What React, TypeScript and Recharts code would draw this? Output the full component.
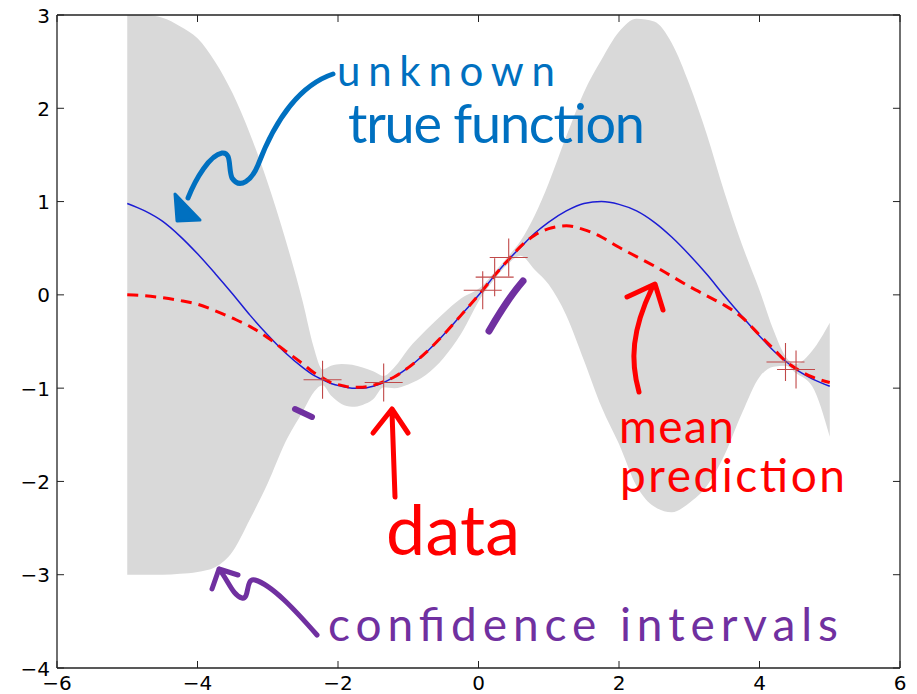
import React from 'react';
import { ComposedChart, Area, Line, Scatter, XAxis, YAxis, ReferenceLine } from 'recharts';

// sample positions along x
const xs = [
  -5, -4.75, -4.5, -4.25, -4, -3.75, -3.5, -3.25, -3, -2.75, -2.5, -2.35, -2.22, -2.1, -1.95, -1.8,
  -1.65, -1.5, -1.35, -1.2, -1.0, -0.75, -0.5, -0.25, 0.06, 0.21, 0.43, 0.6, 0.8, 1.0, 1.25, 1.5,
  1.75, 2.0, 2.25, 2.5, 2.75, 3.0, 3.25, 3.5, 3.75, 4.0, 4.2, 4.37, 4.52, 4.75, 5.0,
];

// unknown true function (blue)
const trueFn = [
  0.98, 0.9, 0.79, 0.63, 0.44, 0.23, 0.01, -0.22, -0.43, -0.62, -0.78, -0.86, -0.91, -0.95, -0.98, -1.0,
  -1.0, -0.98, -0.94, -0.88, -0.78, -0.62, -0.43, -0.22, 0.05, 0.19, 0.38, 0.51, 0.66, 0.78, 0.9, 0.98,
  1.0, 0.97, 0.9, 0.78, 0.62, 0.43, 0.22, -0.01, -0.23, -0.44, -0.6, -0.71, -0.8, -0.9, -0.98,
];

// mean prediction (red dashed)
const meanPred = [
  0.0, -0.01, -0.03, -0.06, -0.1, -0.17, -0.25, -0.34, -0.46, -0.6, -0.74, -0.83, -0.89, -0.94, -0.97, -0.99,
  -0.99, -0.97, -0.93, -0.88, -0.78, -0.62, -0.43, -0.22, 0.05, 0.19, 0.38, 0.52, 0.64, 0.71, 0.74, 0.7,
  0.62, 0.51, 0.41, 0.31, 0.2, 0.09, -0.01, -0.11, -0.24, -0.43, -0.58, -0.71, -0.79, -0.88, -0.94,
];

// confidence interval edges (gray band)
const bandHigh = [
  3.0, 3.0, 2.97, 2.88, 2.75, 2.5, 2.16, 1.72, 1.2, 0.6, -0.08, -0.55, -0.8, -0.76, -0.74, -0.75,
  -0.78, -0.82, -0.87, -0.78, -0.58, -0.38, -0.2, -0.04, 0.1, 0.23, 0.42, 0.58, 0.85, 1.2, 1.7, 2.17,
  2.52, 2.82, 2.96, 2.93, 2.7, 2.26, 1.72, 1.1, 0.54, 0.05, -0.38, -0.66, -0.74, -0.6, -0.3,
];
const bandLow = [
  -3.0, -3.0, -3.0, -2.99, -2.97, -2.92, -2.75, -2.4, -2.02, -1.58, -1.25, -1.05, -0.97, -1.08, -1.17, -1.2,
  -1.18, -1.12, -0.99, -1.0, -0.96, -0.86, -0.68, -0.42, 0.0, 0.15, 0.34, 0.42, 0.27, 0.11, -0.22, -0.7,
  -1.2, -1.6, -2.05, -2.27, -2.33, -2.23, -2.05, -1.72, -1.27, -0.88, -0.77, -0.76, -0.84, -0.98, -1.52,
];

// observed data (+ markers)
const obsX = [-2.22, -1.35, 0.06, 0.23, 0.43, 4.37, 4.52];
const obsY = [-0.91, -0.94, 0.05, 0.19, 0.4, -0.72, -0.8];

const xTicks = [-6, -4, -2, 0, 2, 4, 6];
const yTicks = [-4, -3, -2, -1, 0, 1, 2, 3];
const X_MIN = -6, X_MAX = 6, Y_MIN = -4, Y_MAX = 3;
// inward tick length in data units (about 7px)
const TX = 0.1, TY = 0.075;

const rows = xs.map((x, i) => ({ x, f: trueFn[i], mu: meanPred[i], band: [bandLow[i], bandHigh[i]] }));
const obs = obsX.map((x, i) => ({ x, y: obsY[i] }));

const fmt = (v: number) => String(v).replace('-', '\u2212');
const frame = { stroke: '#222', strokeWidth: 1.3 };

const BottomTick = ({ x, y, payload }: any) => (
  <text x={x} y={y + 13} textAnchor="middle" fontSize={20} fontFamily="DejaVu Sans" fill="#000">
    {fmt(payload.value)}
  </text>
);
const LeftTick = ({ x, y, payload }: any) => (
  <text x={x} y={y + 7.5} textAnchor="end" fontSize={20} fontFamily="DejaVu Sans" fill="#000">
    {fmt(payload.value)}
  </text>
);

const Plus = (props: any) => {
  const { cx, cy } = props;
  const r = 19;
  return (
    <g stroke="#c04848" strokeWidth={1.1}>
      <line x1={cx - r} y1={cy} x2={cx + r} y2={cy} />
      <line x1={cx} y1={cy - r} x2={cx} y2={cy + r} />
    </g>
  );
};

// hand-drawn notes laid over the plot
const Notes = () => {
  const font = { fontFamily: 'Lato', fontWeight: 400 };
  const blue = '#0070c0';
  const red = '#ff0000';
  const purple = '#7030a0';
  return (
    <svg width={917} height={694} style={{ position: 'absolute', left: 0, top: 0, pointerEvents: 'none' }}>
      <g strokeLinecap="round" strokeLinejoin="round">
        <text x={337} y={86} fontSize={42} fill={blue} textLength={218} {...font}>unknown</text>
        <text x={348} y={143} fontSize={54} fill={blue} textLength={297} {...font}>true function</text>
        <path d="M 333 74 C 300 85, 275 120, 258 165 C 252 180, 240 190, 232 178 C 228 168, 232 152, 222 153 C 210 155, 196 178, 188 198"
          fill="none" stroke={blue} strokeWidth={5} />
        <path d="M 175 194 L 177 221 L 200 220 Z" fill={blue} stroke={blue} strokeWidth={3} />

        <text x={386} y={555} fontSize={70} fill={red} textLength={134} {...font}>data</text>
        <path d="M 395 497 L 392 412 M 373 433 L 392 409 L 408 433" fill="none" stroke={red} strokeWidth={5} />

        <text x={619} y={443} fontSize={46} fill={red} textLength={115} {...font}>mean</text>
        <text x={620} y={492} fontSize={46} fill={red} textLength={225} {...font}>prediction</text>
        <path d="M 639 392 C 630 360, 632 330, 652 288 M 627 297 L 655 284 L 663 310" fill="none" stroke={red} strokeWidth={5} />

        <text x={328} y={641} fontSize={46} fill={purple} textLength={510} {...font}>confidence intervals</text>
        <path d="M 317 635 C 295 610, 272 585, 255 580 C 245 577, 250 600, 242 598 C 233 596, 228 580, 219 569 M 212 589 L 219 569 L 238 575"
          fill="none" stroke={purple} strokeWidth={5} />
        <path d="M 295 409 L 312 417" stroke={purple} strokeWidth={6} />
        <path d="M 489 331 C 500 312, 510 296, 523 281" fill="none" stroke={purple} strokeWidth={7} />
      </g>
    </svg>
  );
};

export default function App() {
  return (
    <div style={{ position: 'absolute', left: 0, top: 0, width: 917, height: 694, background: '#fff' }}>
      <ComposedChart width={917} height={694} data={rows} margin={{ top: 15, right: 17, bottom: 0, left: 0 }}>
        <XAxis dataKey="x" type="number" domain={[X_MIN, X_MAX]} ticks={xTicks} interval={0} allowDataOverflow
          height={26} tickSize={0} tickMargin={9} tickLine={false} tick={<BottomTick />} axisLine={frame} />
        <YAxis type="number" domain={[Y_MIN, Y_MAX]} ticks={yTicks} interval={0} allowDataOverflow
          width={57} tickSize={0} tickMargin={7} tickLine={false} tick={<LeftTick />} axisLine={frame} />
        <Area dataKey="band" type="monotone" fill="#d9d9d9" fillOpacity={1} stroke="none" isAnimationActive={false} />
        <Line dataKey="f" type="monotone" stroke="#1c1cd4" strokeWidth={1.5} dot={false} activeDot={false} isAnimationActive={false} />
        <Line dataKey="mu" type="monotone" stroke="#ff0000" strokeWidth={3} strokeDasharray="11 7" dot={false} activeDot={false} isAnimationActive={false} />
        <Scatter data={obs} dataKey="y" shape={Plus} isAnimationActive={false} />
        {/* top and right sides of the axes box */}
        <ReferenceLine y={Y_MAX} stroke="#222" strokeWidth={1.3} />
        <ReferenceLine x={X_MAX} stroke="#222" strokeWidth={1.3} />
        {/* inward ticks on all four sides */}
        {xTicks.map((t) => (
          <ReferenceLine key={`b${t}`} segment={[{ x: t, y: Y_MIN }, { x: t, y: Y_MIN + TY }]} stroke="#222" />
        ))}
        {xTicks.map((t) => (
          <ReferenceLine key={`t${t}`} segment={[{ x: t, y: Y_MAX }, { x: t, y: Y_MAX - TY }]} stroke="#222" />
        ))}
        {yTicks.map((t) => (
          <ReferenceLine key={`l${t}`} segment={[{ x: X_MIN, y: t }, { x: X_MIN + TX, y: t }]} stroke="#222" />
        ))}
        {yTicks.map((t) => (
          <ReferenceLine key={`r${t}`} segment={[{ x: X_MAX, y: t }, { x: X_MAX - TX, y: t }]} stroke="#222" />
        ))}
      </ComposedChart>
      <Notes />
    </div>
  );
}
